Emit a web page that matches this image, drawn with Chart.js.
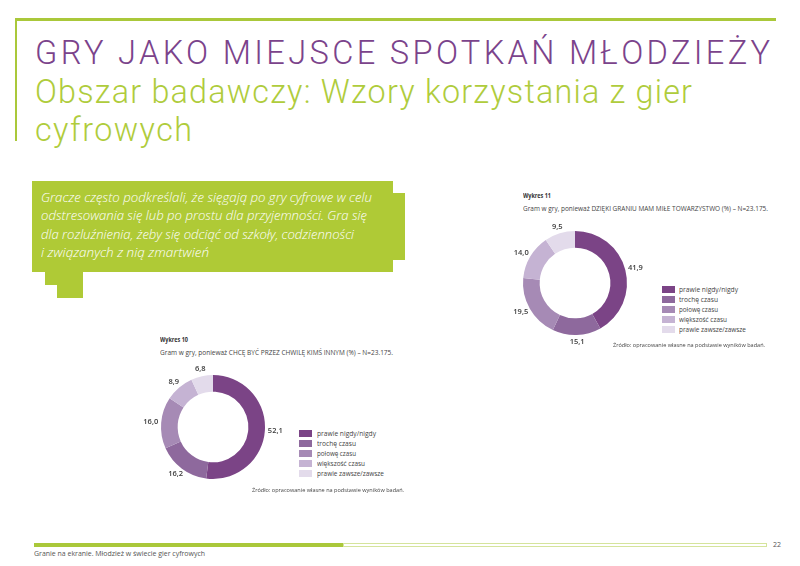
<!DOCTYPE html>
<html lang="pl">
<head>
<meta charset="utf-8">
<title>Gry jako miejsce spotkań młodzieży</title>
<script src="https://cdn.jsdelivr.net/npm/chart.js@4.4.0/dist/chart.umd.min.js"></script>
<style>
  html, body { margin: 0; padding: 0; background: #fff; }
  #page { position: relative; width: 800px; height: 566px; overflow: hidden; font-family: "Open Sans", sans-serif; }
  .t { position: absolute; white-space: nowrap; line-height: 1; transform-origin: 0 0; }
  .mk { display: inline-block; width: 0; height: 0; vertical-align: baseline; }
  .blk { position: absolute; }
  canvas { position: absolute; }
</style>
</head>
<body>
<div id="page">
  <!-- frame lines -->
  <div class="blk" style="left:15px;top:18px;width:761px;height:3px;background:#aac83a"></div>
  <div class="blk" style="left:15px;top:18px;width:2px;height:123px;background:#aac83a"></div>

  <!-- green quote box -->
  <div class="blk" style="left:32px;top:181px;width:361px;height:91px;background:#afca36"></div>
  <div class="blk" style="left:393px;top:193px;width:12px;height:67px;background:#afca36"></div>
  <div class="blk" style="left:45px;top:272px;width:38px;height:13px;background:#afca36"></div>
  <div class="blk" style="left:57px;top:285px;width:26px;height:13px;background:#afca36"></div>

  <!-- footer -->
  <div class="blk" style="left:34px;top:543px;width:309px;height:4px;background:#aac83a"></div>
  <div class="blk" style="left:343px;top:543px;width:422px;height:2px;border:1px solid #d5e49c"></div>

  <canvas id="wykres10" width="160" height="140" style="left:133px;top:357px"></canvas>
  <canvas id="wykres11" width="160" height="140" style="left:495px;top:213px"></canvas>
</div>
<script>
// answers and shares (%)
const answerLabels = ['prawie nigdy/nigdy', 'trochę czasu', 'połowę czasu', 'większość czasu', 'prawie zawsze/zawsze'];
const wykres10Values = [52.1, 16.2, 16.0, 8.9, 6.8];
const wykres11Values = [41.9, 15.1, 19.5, 14.0, 9.5];
const sliceColors = ['#7b4486', '#8e699d', '#a68ab5', '#c5b3d3', '#e3dbeb'];

const purple = '#7b438b';
const green = '#afcc3c';
const grey = '#444';

const page = document.getElementById('page');
let placed = [];

// put a line of text with its baseline at y = base, optionally stretched/squeezed to a width
function addText(txt, x, base, size, color, style, target) {
    let el = document.createElement('span');
    el.className = 't';
    el.textContent = txt;
    el.style.left = x + 'px';
    el.style.fontSize = size + 'px';
    el.style.color = color;
    if (style) el.style.cssText += style;
    let mk = document.createElement('span');
    mk.className = 'mk';
    el.appendChild(mk);
    page.appendChild(el);
    placed.push({ el: el, mk: mk, base: base, target: target });
    return el;
}

function layoutTexts() {
    for (let i = 0; i < placed.length; i++) {
        let p = placed[i];
        p.el.style.letterSpacing = '';
        if (p.target) p.el.style.transform = '';
        p.el.style.top = (p.base - p.mk.offsetTop) + 'px';
        if (p.target) {
            let w = p.el.getBoundingClientRect().width;
            if (w < p.target) {
                p.el.style.letterSpacing = ((p.target - w) / Math.max(p.el.textContent.length - 1, 1)) + 'px';
            } else {
                p.el.style.transform = 'scaleX(' + (p.target / w) + ')';
            }
        }
    }
}

// headings
const headFont = 'font-family:Roboto,"Open Sans",sans-serif;font-weight:300;';
addText('GRY JAKO MIEJSCE SPOTKAŃ MŁODZIEŻY', 35, 63.5, 32.6, purple, headFont, 735);
addText('Obszar badawczy: Wzory korzystania z gier', 35, 102.5, 32.3, green, headFont, 657);
addText('cyfrowych', 35, 140.5, 32.3, green, headFont, 157);

// quote
let quote = [
    ['Gracze często podkreślali, że sięgają po gry cyfrowe w celu', 331],
    ['odstresowania się lub po prostu dla przyjemności. Gra się', 326],
    ['dla rozluźnienia, żeby się odciąć od szkoły, codzienności', 313],
    ['i związanych z nią zmartwień', 168]
];
for (let i = 0; i < quote.length; i++) {
    addText(quote[i][0], 40.7, 201.5 + 18.5 * i, 13.5, '#fff', 'font-style:italic;font-weight:300;', quote[i][1]);
}

// chart captions, legends and sources
const legendWidths = [59, 39, 39, 48, 67];
function chartTexts(num, subtitle, x, base, subW, legX, legY, srcX, srcY) {
    addText('Wykres ' + num, x, base, 7, '#333', 'font-weight:700;', 28);
    addText(subtitle, x, base + 12.5, 7, grey, '', subW);
    for (let i = 0; i < answerLabels.length; i++) {
        let sq = document.createElement('div');
        sq.className = 'blk';
        sq.style.cssText += 'left:' + legX + 'px;top:' + (legY + 10 * i - 3.5) + 'px;width:13px;height:7px;background:' + sliceColors[i];
        page.appendChild(sq);
        addText(answerLabels[i], legX + 17.5, legY + 10 * i + 2.8, 7.6, grey, '', legendWidths[i]);
    }
    addText('Źródło: opracowanie własne na podstawie wyników badań.', srcX, srcY, 6, grey, '', 152);
}
chartTexts(10, 'Gram w gry, ponieważ CHCĘ BYĆ PRZEZ CHWILĘ KIMŚ INNYM (%) – N=23.175.', 160, 342, 233, 299, 433.3, 251.7, 491.7);
chartTexts(11, 'Gram w gry, ponieważ DZIĘKI GRANIU MAM MIŁE TOWARZYSTWO (%) – N=23.175.', 522.7, 198, 245, 661.7, 289.3, 613, 346.7);

addText('Granie na ekranie. Młodzież w świecie gier cyfrowych', 34, 555.5, 7, '#555', '', 171);
addText('22', 773, 547, 7, '#555', '');

// value labels just outside each slice
const valueLabels = {
    id: 'valueLabels',
    afterDatasetsDraw(chart) {
        const ctx = chart.ctx;
        const meta = chart.getDatasetMeta(0);
        const data = chart.data.datasets[0].data;
        ctx.save();
        ctx.font = '600 7.5px "Open Sans"';
        ctx.fillStyle = '#3a3a3a';
        ctx.textAlign = 'center';
        ctx.textBaseline = 'middle';
        meta.data.forEach((arc, i) => {
            const p = arc.getProps(['x', 'y', 'startAngle', 'endAngle', 'outerRadius'], true);
            const mid = (p.startAngle + p.endAngle) / 2;
            const dx = Math.cos(mid), dy = Math.sin(mid);
            const txt = data[i].toFixed(1).replace('.', ',');
            const w = ctx.measureText(txt).width;
            const r = p.outerRadius + 3;
            ctx.fillText(txt, p.x + dx * r + dx * w / 2, p.y + dy * r + dy * 4);
        });
        ctx.restore();
    }
};

function makeDonut(id, values) {
    const ctx = document.getElementById(id).getContext('2d');
    return new Chart(ctx, {
        type: 'doughnut',
        data: {
            labels: answerLabels,
            datasets: [{
                data: values,
                backgroundColor: sliceColors,
                borderWidth: 0
            }]
        },
        options: {
            responsive: false,
            animation: false,
            cutout: '68%',
            layout: { padding: { left: 28, right: 28, top: 18, bottom: 18 } },
            plugins: {
                legend: { display: false },
                tooltip: { enabled: false }
            }
        },
        plugins: [valueLabels]
    });
}

makeDonut('wykres10', wykres10Values);
makeDonut('wykres11', wykres11Values);

layoutTexts();
document.fonts.ready.then(layoutTexts);
</script>
</body>
</html>
